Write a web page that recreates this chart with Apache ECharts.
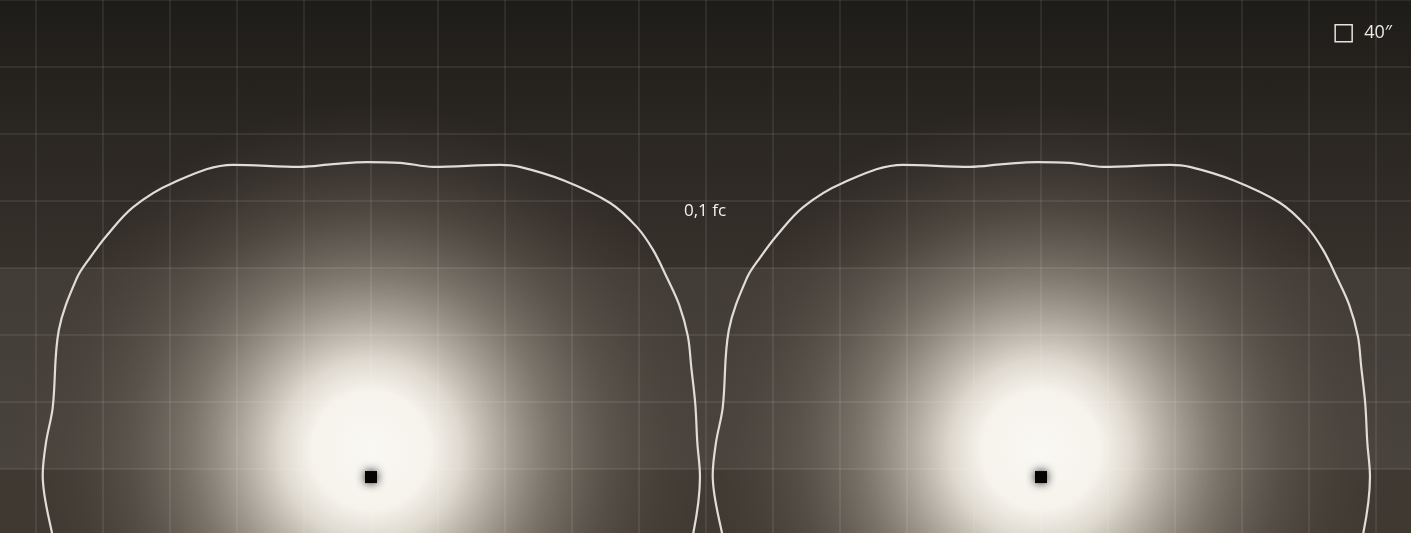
<!DOCTYPE html>
<html>
<head>
<meta charset="utf-8">
<script src="https://cdn.jsdelivr.net/npm/echarts@6/dist/echarts.min.js"></script>
<style>
    html, body { margin: 0; padding: 0; overflow: hidden; width: 1411px; height: 533px; background: #3f3932; }
    #main {
        position: absolute;
        left: -31px;
        top: 0;
        width: 1474px;
        height: 536px;
        background: linear-gradient(to bottom, #1e1c19 0px, #2a2622 130px, #37312b 267px, #3f3932 469px, #3f3932 536px);
    }
</style>
</head>
<body>
<div id="main"></div>
<script>
// luminaire positions (grid units, 1 unit = one grid square)
var lightX = [5, 15];
var lightY = [-0.12, -0.12];

// 0,1 fc isoline around one luminaire, offsets from the luminaire
var contourDX = [4.70, 4.81, 4.91, 4.87, 4.84, 4.78, 4.73, 4.60, 4.42, 4.21, 3.97, 3.57, 2.87, 2.22, 1.93,
    0.93, 0.43, -0.06, -0.57, -1.06, -2.06, -2.96, -3.55, -3.94, -4.19, -4.39, -4.66, -4.75, -4.85, -4.90, -4.76, -4.68];
var contourDY = [-1.05, -0.84, 0.00, 0.52, 1.09, 1.64, 2.10, 2.57, 2.97, 3.39, 3.73, 4.09, 4.43, 4.63, 4.66,
    4.63, 4.69, 4.70, 4.67, 4.63, 4.66, 4.39, 4.03, 3.61, 3.28, 2.97, 2.19, 1.04, 0.52, 0.03, -0.84, -1.05];

var myChart = echarts.init(document.getElementById('main'));

var lights = [];
for (var i = 0; i < lightX.length; i++) {
    lights.push([lightX[i], lightY[i]]);
}

var series = [];

// 光晕
series.push({
    name: 'glow',
    type: 'scatter',
    z: 1,
    silent: true,
    symbol: 'circle',
    symbolSize: 700,
    symbolOffset: [0, -27],
    itemStyle: {
        opacity: 1,
        color: new echarts.graphic.RadialGradient(0.5, 0.5, 0.5, [
            { offset: 0, color: 'rgba(250,248,243,1)' },
            { offset: 0.17, color: 'rgba(246,243,236,1)' },
            { offset: 0.26, color: 'rgba(228,223,213,0.96)' },
            { offset: 0.37, color: 'rgba(192,185,174,0.86)' },
            { offset: 0.51, color: 'rgba(152,144,133,0.68)' },
            { offset: 0.69, color: 'rgba(116,108,98,0.42)' },
            { offset: 0.86, color: 'rgba(92,84,75,0.18)' },
            { offset: 1, color: 'rgba(80,72,64,0)' }
        ])
    },
    data: lights
});

// lighter band
series.push({
    name: 'band',
    type: 'line',
    z: 2,
    silent: true,
    data: [],
    markArea: {
        silent: true,
        itemStyle: { color: 'rgba(255,255,255,0.055)' },
        data: [[{ yAxis: 0 }, { yAxis: 3 }]]
    }
});

// isolines
for (var k = 0; k < lightX.length; k++) {
    var pts = [];
    for (var j = 0; j < contourDX.length; j++) {
        pts.push([lightX[k] + contourDX[j], lightY[k] + contourDY[j]]);
    }
    series.push({
        name: '0,1 fc',
        type: 'line',
        z: 4,
        smooth: 0.35,
        showSymbol: false,
        silent: true,
        lineStyle: { color: '#e0ddd6', width: 2.2 },
        data: pts
    });
}

// luminaires
series.push({
    name: '40″',
    type: 'scatter',
    z: 5,
    symbol: 'rect',
    symbolSize: 12,
    itemStyle: {
        opacity: 1,
        color: '#050403',
        shadowBlur: 10,
        shadowColor: 'rgba(0,0,0,0.9)'
    },
    data: lights
});

var option = {
    animation: false,
    title: {
        text: '0,1 fc',
        left: 715,
        top: 203,
        padding: 0,
        textStyle: {
            color: '#f2f0ea',
            fontSize: 17,
            fontWeight: 'normal',
            fontFamily: 'Open Sans'
        }
    },
    legend: {
        right: 51,
        top: 24,
        padding: 0,
        itemWidth: 17,
        itemHeight: 17,
        data: [{
            name: '40″',
            icon: 'rect',
            itemStyle: { color: 'rgba(0,0,0,0)', borderColor: '#e6e3dc', borderWidth: 1.5, shadowBlur: 0 }
        }],
        textStyle: {
            color: '#eceae4',
            fontSize: 18,
            fontFamily: 'Open Sans',
            padding: [0, 0, 0, 7]
        }
    },
    grid: {
        left: 0,
        right: 0,
        top: 0,
        bottom: 0
    },
    xAxis: {
        type: 'value',
        min: -1,
        max: 21,
        interval: 1,
        z: 3,
        axisLine: { show: false },
        axisTick: { show: false },
        axisLabel: { show: false },
        splitLine: { lineStyle: { color: 'rgba(255,255,255,0.1)', width: 1.5 } }
    },
    yAxis: {
        type: 'value',
        min: -1,
        max: 7,
        interval: 1,
        z: 3,
        axisLine: { show: false },
        axisTick: { show: false },
        axisLabel: { show: false },
        splitLine: { lineStyle: { color: 'rgba(255,255,255,0.1)', width: 1.5 } }
    },
    series: series
};

myChart.setOption(option);
</script>
</body>
</html>
